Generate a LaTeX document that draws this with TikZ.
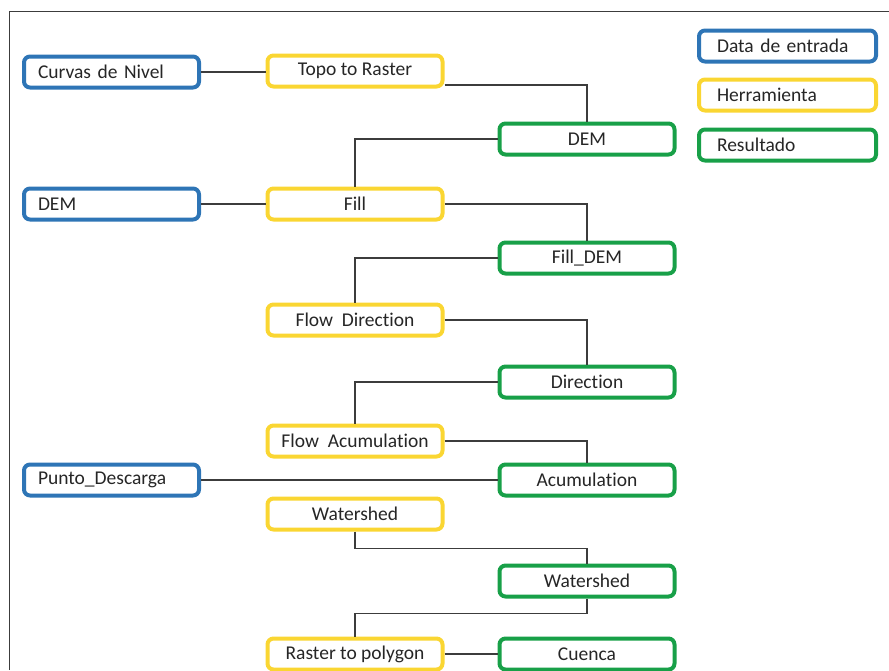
\documentclass[tikz,border=0pt]{standalone}
\usepackage{fontspec}
\setmainfont{Carlito}[Ligatures={NoCommon,NoRare}]
\usetikzlibrary{positioning}
\definecolor{blue1}{RGB}{46,117,182}
\definecolor{yellow1}{RGB}{250,214,50}
\definecolor{green1}{RGB}{24,160,72}
\definecolor{line1}{RGB}{60,60,60}

\begin{document}
\begin{tikzpicture}[x=1pt,y=-1pt,semithick,
                    font=\fontsize{19.5}{24}\selectfont]
        \tikzstyle{box}=[draw,line width=4pt,rounded corners=6pt,fill=white,text=black!85,
                         minimum width=175pt,minimum height=31pt,inner sep=0pt]
        \tikzstyle{entrada}=[box,draw=blue1,text width=147pt,align=left,inner xsep=14pt]
        \tikzstyle{herramienta}=[box,draw=yellow1]
        \tikzstyle{resultado}=[box,draw=green1]
        \tikzstyle{leyenda}=[box,minimum width=177pt,text width=141pt,align=left,inner xsep=18pt]
        \tikzstyle{link}=[line1,line width=1.3pt]

        \useasboundingbox (0,0) rectangle (889,670);
        \draw[line1,line width=1pt] (9,670) -- (9,11) -- (889,11);

        % data de entrada
        \node[entrada]      (curvas) at (111.5, 72)     {Curvas de Nivel};
        \node[entrada]      (dem0) at (111.5, 204)      {DEM};
        \node[entrada]      (punto) at (111.5, 480)     {Punto\_Descarga};

        % herramientas
        \node[herramienta]  (topo) at (355, 71)         {Topo to Raster};
        \node[herramienta]  (fill) at (355, 204)        {Fill};
        \node[herramienta]  (flowdir) at (355, 320)     {Flow~~Direction};
        \node[herramienta]  (flowacc) at (355, 441)     {Flow~~Acumulation};
        \node[herramienta]  (wsh) at (355, 514)         {Watershed};
        \node[herramienta]  (raster) at (355, 654)      {Raster to polygon};

        % resultados
        \node[resultado]    (dem1) at (587, 139)        {DEM};
        \node[resultado]    (filldem) at (587, 258)     {Fill\_DEM};
        \node[resultado]    (dir) at (587, 382)         {Direction};
        \node[resultado]    (acc) at (587, 480)         {Acumulation};
        \node[resultado]    (wshr) at (587, 581)        {Watershed};
        \node[resultado]    (cuenca) at (587, 654)      {Cuenca};

        % leyenda
        \node[leyenda,draw=blue1]   (l1) at (787.5, 46)  {Data de entrada};
        \node[leyenda,draw=yellow1] (l2) at (787.5, 95)  {Herramienta};
        \node[leyenda,draw=green1]  (l3) at (787.5, 145) {Resultado};

        \draw[link] (curvas) -- (curvas -| topo.west);
        \draw[link] ([yshift=-14pt]topo.east) -| (dem1.north);
        \draw[link] (dem1.west) -| (fill.north);
        \draw[link] (dem0) -- (fill);
        \draw[link] (fill.east) -| (filldem.north);
        \draw[link] (filldem.west) -| (flowdir.north);
        \draw[link] (flowdir.east) -| (dir.north);
        \draw[link] (dir.west) -| (flowacc.north);
        \draw[link] (flowacc.east) -| (acc.north);
        \draw[link] (punto) -- (acc);
        \draw[link] (wsh.south) -- ++(0,17) -| (wshr.north);
        \draw[link] (wshr.south) -- ++(0,15) -| (raster.north);
        \draw[link] (raster) -- (cuenca);
    \end{tikzpicture}
\end{document}
